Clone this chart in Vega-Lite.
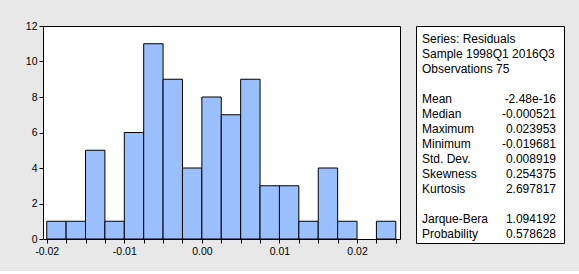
{
  "$schema": "https://vega.github.io/schema/vega-lite/v6.json",
  "background": "#e8e8e8",
  "padding": {"left": 24, "top": 20, "right": 15, "bottom": 14},
  "spacing": 14,
  "config": {
    "font": "Liberation Sans",
    "axis": {"labelFont": "Liberation Sans", "labelFontSize": 10.5, "labelColor": "#000", "tickColor": "#000", "tickSize": 4, "domain": false, "grid": false, "title": null}
  },
  "hconcat": [
    {
      "width": 357,
      "height": 213,
      "view": {"fill": "white", "stroke": "black", "strokeWidth": 1},
      "data": {"values": [
        {"bin_start": -0.02, "bin_end": -0.0175, "count": 1},
        {"bin_start": -0.0175, "bin_end": -0.015, "count": 1},
        {"bin_start": -0.015, "bin_end": -0.0125, "count": 5},
        {"bin_start": -0.0125, "bin_end": -0.01, "count": 1},
        {"bin_start": -0.01, "bin_end": -0.0075, "count": 6},
        {"bin_start": -0.0075, "bin_end": -0.005, "count": 11},
        {"bin_start": -0.005, "bin_end": -0.0025, "count": 9},
        {"bin_start": -0.0025, "bin_end": 0.0, "count": 4},
        {"bin_start": 0.0, "bin_end": 0.0025, "count": 8},
        {"bin_start": 0.0025, "bin_end": 0.005, "count": 7},
        {"bin_start": 0.005, "bin_end": 0.0075, "count": 9},
        {"bin_start": 0.0075, "bin_end": 0.01, "count": 3},
        {"bin_start": 0.01, "bin_end": 0.0125, "count": 3},
        {"bin_start": 0.0125, "bin_end": 0.015, "count": 1},
        {"bin_start": 0.015, "bin_end": 0.0175, "count": 4},
        {"bin_start": 0.0175, "bin_end": 0.02, "count": 1},
        {"bin_start": 0.02, "bin_end": 0.0225, "count": 0},
        {"bin_start": 0.0225, "bin_end": 0.025, "count": 1}
      ]},
      "transform": [{"filter": "datum.count > 0"}],
      "mark": {"type": "bar", "fill": "#99bfff", "stroke": "black", "strokeWidth": 1},
      "encoding": {
        "x": {
          "field": "bin_start", "type": "quantitative",
          "scale": {"domain": [-0.02048, 0.02554], "nice": false, "zero": false},
          "axis": {
            "values": [-0.02, -0.0175, -0.015, -0.0125, -0.01, -0.0075, -0.005, -0.0025, 0, 0.0025, 0.005, 0.0075, 0.01, 0.0125, 0.015, 0.0175, 0.02, 0.0225, 0.025],
            "labelExpr": "abs(datum.value*100 - round(datum.value*100)) < 0.000001 ? replace(format(datum.value, '.2f'), '\u2212', '-') : ''",
            "labelOverlap": false,
            "labelFlush": false,
            "labelPadding": 3
          }
        },
        "x2": {"field": "bin_end"},
        "y": {
          "field": "count", "type": "quantitative",
          "scale": {"domain": [0, 12], "nice": false},
          "axis": {"values": [0, 2, 4, 6, 8, 10, 12], "labelPadding": 2}
        },
        "y2": {"datum": 0}
      }
    },
    {
      "width": 148,
      "height": 217,
      "view": {"fill": "white", "stroke": "black", "strokeWidth": 1},
      "data": {"values": [
        {"line": 0, "name": "Series: Residuals", "value": ""},
        {"line": 1, "name": "Sample 1998Q1 2016Q3", "value": ""},
        {"line": 2, "name": "Observations 75", "value": ""},
        {"line": 4, "name": "Mean", "value": "-2.48e-16"},
        {"line": 5, "name": "Median", "value": "-0.000521"},
        {"line": 6, "name": "Maximum", "value": "0.023953"},
        {"line": 7, "name": "Minimum", "value": "-0.019681"},
        {"line": 8, "name": "Std. Dev.", "value": "0.008919"},
        {"line": 9, "name": "Skewness", "value": "0.254375"},
        {"line": 10, "name": "Kurtosis", "value": "2.697817"},
        {"line": 12, "name": "Jarque-Bera", "value": "1.094192"},
        {"line": 13, "name": "Probability", "value": "0.578628"}
      ]},
      "layer": [
        {
          "mark": {"type": "text", "align": "left", "baseline": "alphabetic", "fontSize": 12, "color": "black", "font": "Liberation Sans"},
          "encoding": {
            "x": {"datum": 0, "type": "quantitative", "scale": {"domain": [-0.04478, 1.0597], "nice": false, "zero": false}, "axis": null},
            "y": {"field": "line", "type": "quantitative", "scale": {"domain": [-1.1333, 13.3333], "reverse": true, "nice": false, "zero": false}, "axis": null},
            "text": {"field": "name"}
          }
        },
        {
          "mark": {"type": "text", "align": "right", "baseline": "alphabetic", "fontSize": 12, "color": "black", "font": "Liberation Sans"},
          "encoding": {
            "x": {"datum": 1, "type": "quantitative", "scale": {"domain": [-0.04478, 1.0597], "nice": false, "zero": false}, "axis": null},
            "y": {"field": "line", "type": "quantitative", "scale": {"domain": [-1.1333, 13.3333], "reverse": true, "nice": false, "zero": false}, "axis": null},
            "text": {"field": "value"}
          }
        }
      ]
    }
  ]
}
